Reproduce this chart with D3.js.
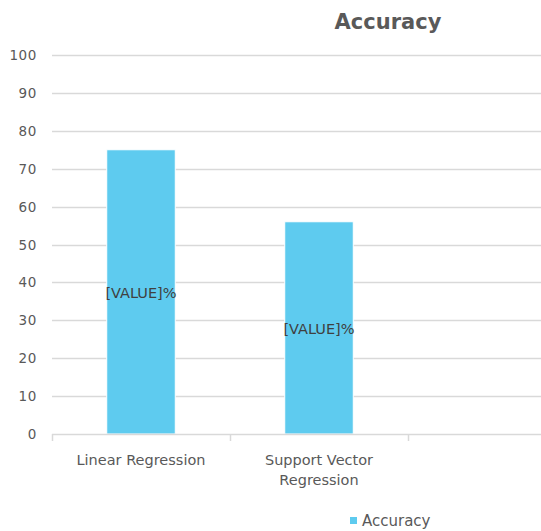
<!DOCTYPE html>
<html>
<head>
<meta charset="utf-8">
<script src="https://cdn.jsdelivr.net/npm/d3@7"></script>
<style>
  body { margin: 0; background: #fff; }
  text { font-family: "DejaVu Sans", sans-serif; fill: #595959; }
</style>
</head>
<body>
<div id="chart"></div>
<script>
// chart data
var categories = ["Linear Regression", "Support Vector Regression", ""];
var accuracy = [75, 56, null];
var yTicks = [0, 10, 20, 30, 40, 50, 60, 70, 80, 90, 100];
var seriesName = "Accuracy";
var chartTitle = "Accuracy";
var dataLabel = "[VALUE]%";

var width = 541,
  height = 531;

var svg = d3
  .select("#chart")
  .append("svg")
  .attr("width", width)
  .attr("height", height);

// y scale, 0 at the axis line and 100 at the top gridline
var y = d3.scaleLinear().domain([0, 100]).range([434, 55]);

// category bands (plot runs past the right edge of the window)
var xAxisBand = d3.scaleBand().domain(categories).range([52, 586]).padding(0);
var x = d3
  .scaleBand()
  .domain(categories)
  .range([52, 586])
  .paddingInner(0.615)
  .paddingOuter(0.3075);

// gridlines
svg
  .selectAll(".grid")
  .data(yTicks.filter(function (d) { return d > 0; }))
  .enter()
  .append("line")
  .attr("x1", 52)
  .attr("x2", width)
  .attr("y1", function (d) { return Math.round(y(d)) + 0.5; })
  .attr("y2", function (d) { return Math.round(y(d)) + 0.5; })
  .attr("stroke", "#d9d9d9")
  .attr("stroke-width", 1.5);

// y tick labels
svg
  .selectAll(".ylab")
  .data(yTicks)
  .enter()
  .append("text")
  .attr("x", 37)
  .attr("y", function (d) { return y(d) + 5; })
  .attr("text-anchor", "end")
  .style("font-size", "13.5px")
  .style("letter-spacing", "0.6px")
  .text(function (d) { return d; });

// bars
var barData = categories
  .map(function (c, i) { return { cat: c, value: accuracy[i] }; })
  .filter(function (d) { return d.value != null; });

svg
  .selectAll(".bar")
  .data(barData)
  .enter()
  .append("rect")
  .attr("x", function (d) { return x(d.cat); })
  .attr("y", function (d) { return y(d.value); })
  .attr("width", x.bandwidth())
  .attr("height", function (d) { return y(0) - y(d.value); })
  .attr("fill", "#5ecbef")
  .attr("stroke", "#ffffff")
  .attr("stroke-width", 1);

// data labels in the middle of each bar
svg
  .selectAll(".dlab")
  .data(barData)
  .enter()
  .append("text")
  .attr("x", function (d) { return x(d.cat) + x.bandwidth() / 2; })
  .attr("y", function (d) { return (y(d.value) + y(0)) / 2 + 6; })
  .attr("text-anchor", "middle")
  .style("font-size", "14.5px")
  .style("fill", "#404040")
  .text(dataLabel);

// x axis line and tick marks at category boundaries
svg
  .append("line")
  .attr("x1", 52)
  .attr("x2", width)
  .attr("y1", 434.5)
  .attr("y2", 434.5)
  .attr("stroke", "#d9d9d9")
  .attr("stroke-width", 1.5);

svg
  .selectAll(".xtick")
  .data(categories)
  .enter()
  .append("line")
  .attr("x1", function (d) { return Math.round(xAxisBand(d)) + 0.5; })
  .attr("x2", function (d) { return Math.round(xAxisBand(d)) + 0.5; })
  .attr("y1", 434)
  .attr("y2", 441)
  .attr("stroke", "#d9d9d9")
  .attr("stroke-width", 1.5);

// category labels, wrapped to fit roughly the band width
var wrapped = {
  "Linear Regression": ["Linear Regression"],
  "Support Vector Regression": ["Support Vector", "Regression"],
  "": []
};

categories.forEach(function (c) {
  var t = svg
    .append("text")
    .attr("x", xAxisBand(c) + xAxisBand.bandwidth() / 2)
    .attr("y", 465)
    .attr("text-anchor", "middle")
    .style("font-size", "14.5px");
  wrapped[c].forEach(function (line, i) {
    t.append("tspan")
      .attr("x", xAxisBand(c) + xAxisBand.bandwidth() / 2)
      .attr("dy", i === 0 ? 0 : 20)
      .text(line);
  });
});

// title
svg
  .append("text")
  .attr("x", 388)
  .attr("y", 29)
  .attr("text-anchor", "middle")
  .style("font-size", "21px")
  .style("font-weight", "bold")
  .text(chartTitle);

// legend
svg
  .append("rect")
  .attr("x", 350)
  .attr("y", 517)
  .attr("width", 7)
  .attr("height", 7)
  .attr("fill", "#5ecbef");

svg
  .append("text")
  .attr("x", 362)
  .attr("y", 526)
  .style("font-size", "15px")
  .text(seriesName);
</script>
</body>
</html>
